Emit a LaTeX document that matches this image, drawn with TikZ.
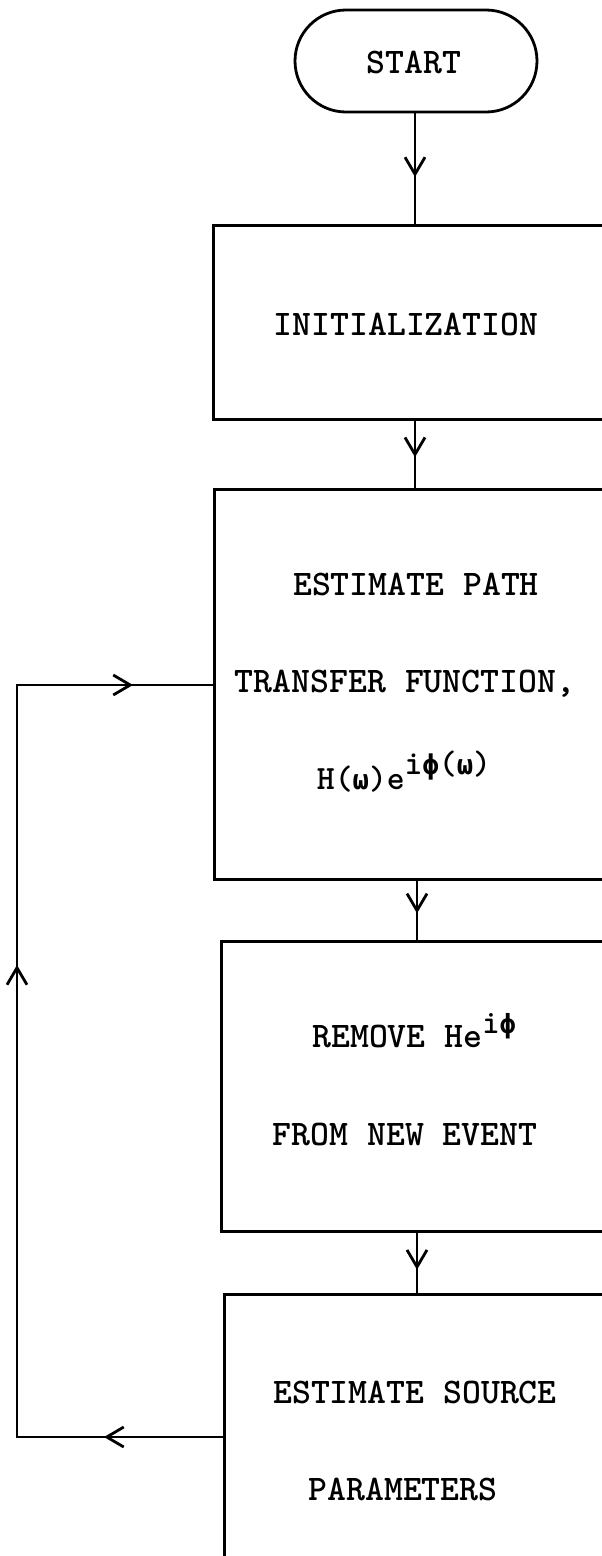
\RequirePackage{fix-cm}
\documentclass[tikz,border=0pt]{standalone}
\usepackage{fontspec}
\newfontfamily\grk{DejaVu Sans Mono}[Scale=0.8]
\usetikzlibrary{arrows.meta,decorations.markings}
\begin{document}
\begin{tikzpicture}[x=1pt,y=-1pt,line width=2.8pt,
  boxst/.style={draw,rectangle,anchor=north west,inner sep=0pt,line width=2.8pt},
  termst/.style={draw,rectangle,rounded corners=51pt,minimum width=242pt,minimum height=102pt,inner sep=0pt,line width=2.8pt},
  lbl/.style={anchor=base,inner sep=0pt,font=\fontsize{36}{40}\selectfont\ttfamily\bfseries},
  midtip/.style={postaction={decorate},decoration={markings,mark=at position #1 with {\arrow{Straight Barb[length=17pt,width=20pt,line width=2.8pt]}}}},
  fbline/.style={postaction={decorate},decoration={markings,
     mark=at position 119pt with {\arrow{Straight Barb[length=17pt,width=20pt,line width=2.8pt]}},
     mark=at position 678pt with {\arrow{Straight Barb[length=17pt,width=20pt,line width=2.8pt]}},
     mark=at position 1074pt with {\arrow{Straight Barb[length=17pt,width=20pt,line width=2.8pt]}}}}]
\useasboundingbox (0,0) rectangle (602,1556);
\clip (0,0) rectangle (602,1556);
% nodes
\node[termst] (start) at (416,61) {};
\node[lbl] (tstart) at (414,73) {START};
\node[boxst,minimum width=440pt,minimum height=194pt] (init) at (212,224) {};
\node[lbl] (tinit) at (406,335) {INITIALIZATION};
\node[boxst,minimum width=440pt,minimum height=390pt] (path) at (213,488) {};
\node[lbl] (tp1) at (416,595) {ESTIMATE PATH};
\node[lbl] (tp2) at (405,692) {TRANSFER FUNCTION,};
\node[anchor=base,inner sep=0pt,font=\fontsize{34}{38}\selectfont\ttfamily\bfseries] (tp3) at (404,789) {H({\grk ω})e\raisebox{15pt}{i{\grk ϕ}({\grk ω})}};
\node[boxst,minimum width=440pt,minimum height=290pt] (remove) at (220,940) {};
\node[lbl] (tr1) at (414,1047) {REMOVE He\raisebox{14pt}{\fontsize{33}{36}\selectfont i{\grk ϕ}}};
\node[lbl] (tr2) at (405,1145) {FROM NEW EVENT};
\node[boxst,minimum width=440pt,minimum height=400pt] (source) at (223,1293) {};
\node[lbl] (ts1) at (415,1403) {ESTIMATE SOURCE};
\node[lbl] (ts2) at (403,1500) {PARAMETERS};
\coordinate (fbA) at (17,1437);
\coordinate (fbB) at (17,685);
% connectors
\draw[midtip=0.58] (415,112) -- (415,224);
\draw[midtip=0.56] (415,418) -- (415,488);
\draw[midtip=0.57] (417,878) -- (417,940);
\draw[midtip=0.63] (417,1230) -- (417,1293);
\draw[fbline] (source.west |- fbA) -- (fbA) -- (fbB) -- (path.west |- fbB);
\end{tikzpicture}
\end{document}
